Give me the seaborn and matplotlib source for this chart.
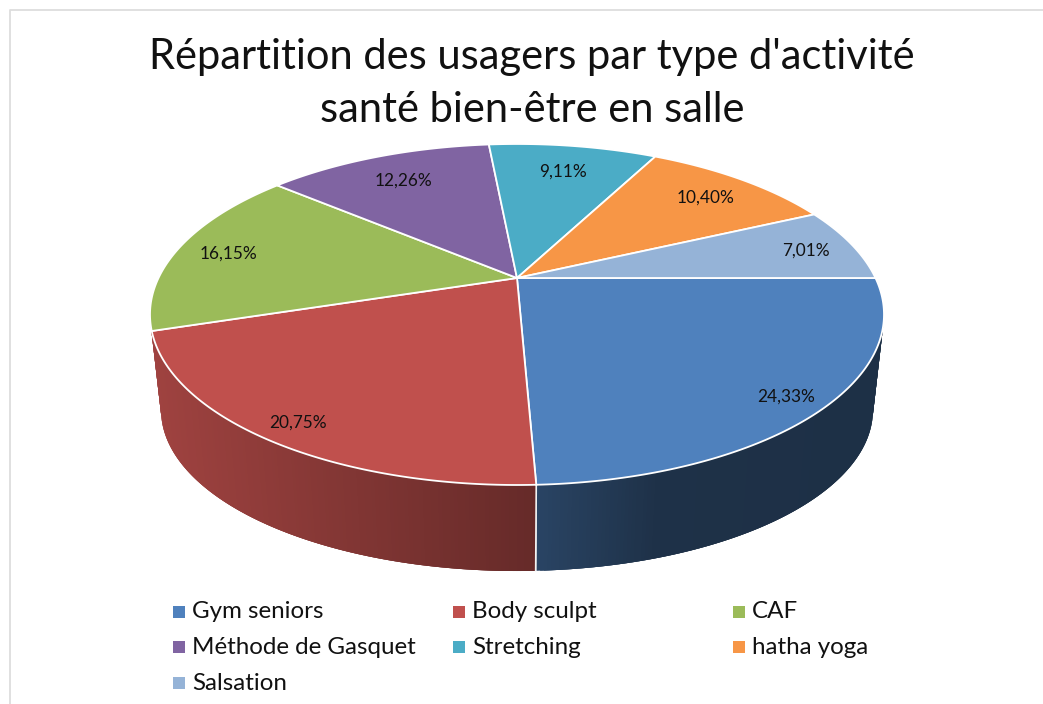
import numpy as np
import matplotlib
matplotlib.use("Agg")
import matplotlib.pyplot as plt
import seaborn as sns

# Data
activities = ["Gym seniors", "Body sculpt", "CAF", "Méthode de Gasquet",
              "Stretching", "hatha yoga", "Salsation"]
shares = [24.33, 20.75, 16.15, 12.26, 9.11, 10.40, 7.01]
colors = ["#4F81BD", "#C0504D", "#9BBB59", "#8064A2", "#4BACC6", "#F79646", "#95B3D7"]
title_lines = ["Répartition des usagers par type d'activité",
               "santé bien-être en salle"]

sns.set_theme(style="white")
plt.rcParams["font.family"] = ["Lato", "DejaVu Sans"]
palette = sns.color_palette(colors)

fig, ax = plt.subplots(figsize=(10.43, 7.04), dpi=100)
ax.set_position([0, 0, 1, 1])
ax.set_xlim(0, 1043)
ax.set_ylim(704, 0)
ax.axis("off")

# Perspective projection of the pie disc
HUB_X, HUB_Y = 517, 278
TILT = 0.214
WIDTH, HEIGHT = 358.5, 162.7
LOW_WIDTH, LOW_HEIGHT, LOW_Y = 347.7, 153.6, 375.6
label_radius = [0.9, 0.9, 0.85, 0.79, 0.79, 0.82, 0.86]


def top_rim(deg, r=1.0):
    t = np.radians(deg)
    d = 1 + TILT * r * np.sin(t)
    return HUB_X + WIDTH * r * np.cos(t) / d, HUB_Y - HEIGHT * r * np.sin(t) / d


def low_rim(deg):
    t = np.radians(deg)
    d = 1 + TILT * np.sin(t)
    return HUB_X + LOW_WIDTH * np.cos(t) / d, LOW_Y - LOW_HEIGHT * np.sin(t) / d


# Slices run clockwise from 3 o'clock
fractions = np.array(shares) / sum(shares)
edges = -360 * np.concatenate([[0], np.cumsum(fractions)])

# Side wall with the horizontal shading, strips overlap so no seams show
side_x = [150, 536, 660, 884]
side_shade = [0.83, 0.53, 0.38, 0.37]
steps = np.arange(-168, -12, 0.5)
for a in steps:
    b = min(a + 1.5, -12)
    mid = a + 0.25
    i = 0 if mid > edges[1] else 1
    if i == 1:
        b = min(b, edges[1])
    tx = np.array([top_rim(a)[0], top_rim(b)[0], low_rim(b)[0], low_rim(a)[0]])
    ty = np.array([top_rim(a)[1], top_rim(b)[1], low_rim(b)[1], low_rim(a)[1]])
    shade = np.interp(top_rim(mid)[0], side_x, side_shade)
    c = tuple(np.array(palette[i]) * shade)
    ax.fill(tx, ty, color=c, lw=0, zorder=1)

# White seam between the two visible walls
ax.plot([top_rim(edges[1])[0], low_rim(edges[1])[0]],
        [top_rim(edges[1])[1], low_rim(edges[1])[1]], color="#F2F2F2", lw=1.2, zorder=2)

# Top face
for i, name in enumerate(activities):
    angles = np.linspace(edges[i], edges[i + 1], 120)
    rx, ry = top_rim(angles)
    ax.fill(np.r_[HUB_X, rx], np.r_[HUB_Y, ry], facecolor=palette[i],
            edgecolor="white", lw=1.3, zorder=3)
    mid = (edges[i] + edges[i + 1]) / 2
    lx, ly = top_rim(mid, label_radius[i])
    ax.text(lx, ly + 2, f"{shares[i]:.2f}%".replace(".", ","), ha="center", va="center",
            fontsize=12.4, color="#111111", zorder=4)

# Title
ax.text(532, 57, title_lines[0], ha="center", va="center", fontsize=30, color="#111111")
ax.text(532, 110, title_lines[1], ha="center", va="center", fontsize=30, color="#111111")

# Legend, filled row by row
for i, name in enumerate(activities):
    col, row = i % 3, i // 3
    x = 179 + 280 * col
    y = 611.5 + 35.5 * row
    ax.scatter(x, y, marker="s", s=82, color=palette[i], linewidths=0, zorder=3)
    ax.text(x + 13, y + 0.5, name, ha="left", va="center", fontsize=17.4, color="#111111")

# Thin slide frame
ax.plot([1043, 9.5, 9.5], [10, 10, 704], color="#DDDDDD", lw=1.3)

fig.savefig("out.png", dpi=100)
